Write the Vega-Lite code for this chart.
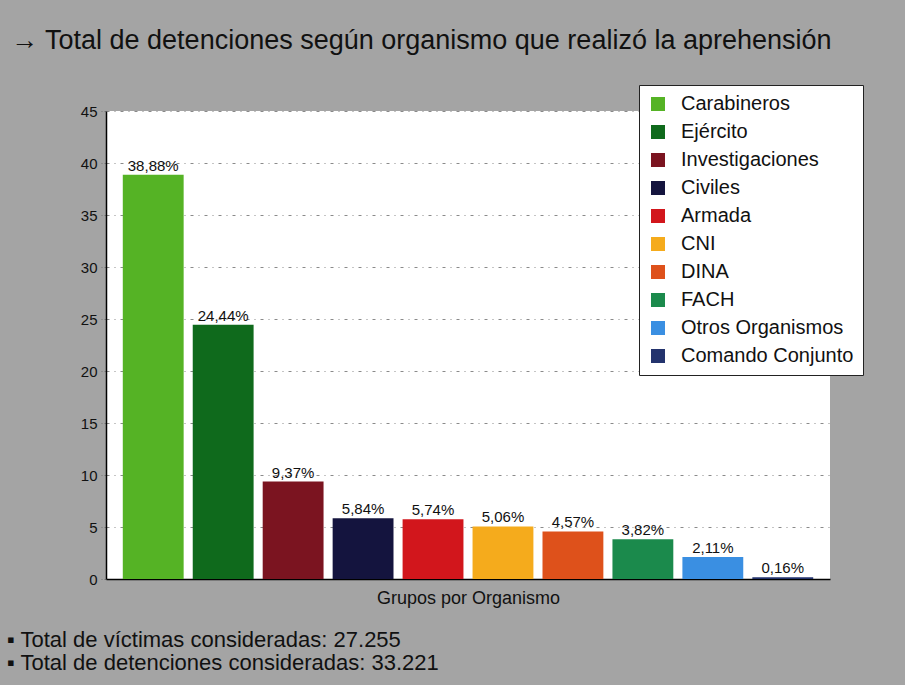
{
  "$schema": "https://vega.github.io/schema/vega-lite/v6.json",
  "background": "#a4a4a4",
  "autosize": {"type": "pad"},
  "padding": {"left": 7, "top": 26, "right": 60, "bottom": 40},
  "config": {
    "font": "Liberation Sans",
    "view": {"fill": "white", "stroke": null}
  },
  "title": {
    "text": "→ Total de detenciones según organismo que realizó la aprehensión",
    "anchor": "start",
    "frame": "group",
    "fontSize": 27,
    "fontWeight": "normal",
    "color": "#111111",
    "dx": -95,
    "offset": 30
  },
  "vconcat": [
    {
      "width": 724,
      "height": 468,
      "title": {
        "text": ["▪ Total de víctimas consideradas: 27.255", "▪ Total de detenciones consideradas: 33.221"],
        "orient": "bottom",
        "anchor": "start",
        "frame": "group",
        "fontSize": 22,
        "lineHeight": 23,
        "fontWeight": "normal",
        "color": "#111111",
        "dx": -99,
        "offset": 23
      },
      "data": {
        "values": [
          {"org": "Carabineros", "pct": 38.88, "label": "38,88%"},
          {"org": "Ejército", "pct": 24.44, "label": "24,44%"},
          {"org": "Investigaciones", "pct": 9.37, "label": "9,37%"},
          {"org": "Civiles", "pct": 5.84, "label": "5,84%"},
          {"org": "Armada", "pct": 5.74, "label": "5,74%"},
          {"org": "CNI", "pct": 5.06, "label": "5,06%"},
          {"org": "DINA", "pct": 4.57, "label": "4,57%"},
          {"org": "FACH", "pct": 3.82, "label": "3,82%"},
          {"org": "Otros Organismos", "pct": 2.11, "label": "2,11%"},
          {"org": "Comando Conjunto", "pct": 0.16, "label": "0,16%"}
        ]
      },
      "encoding": {
        "x": {
          "field": "org",
          "type": "nominal",
          "sort": null,
          "scale": {"paddingInner": 0.13, "paddingOuter": 0.24},
          "axis": {
            "labels": false,
            "ticks": false,
            "domainColor": "#000000",
            "domainWidth": 1.5,
            "title": "Grupos por Organismo",
            "titleFontSize": 18,
            "titleFontWeight": "normal",
            "titleColor": "#111111",
            "titlePadding": 10
          }
        },
        "y": {
          "field": "pct",
          "type": "quantitative",
          "scale": {"domain": [0, 45]},
          "axis": {
            "values": [0, 5, 10, 15, 20, 25, 30, 35, 40, 45],
            "title": null,
            "labelFontSize": 15,
            "labelColor": "#111111",
            "labelPadding": 4,
            "domainColor": "#000000",
            "domainWidth": 1.5,
            "tickColor": "#777777",
            "tickSize": 5,
            "tickDash": [2, 2],
            "gridColor": "#8a8a8a",
            "gridDash": [3, 5, 1, 5],
            "gridWidth": 1
          }
        }
      },
      "layer": [
        {
          "mark": {"type": "bar"},
          "encoding": {
            "color": {
              "field": "org",
              "type": "nominal",
              "sort": null,
              "scale": {
                "domain": ["Carabineros", "Ejército", "Investigaciones", "Civiles", "Armada", "CNI", "DINA", "FACH", "Otros Organismos", "Comando Conjunto"],
                "range": ["#55b325", "#0f6a1c", "#7b1420", "#14143e", "#d2161c", "#f5ab1c", "#de511b", "#1b8a4c", "#3a8fe2", "#23336d"]
              },
              "legend": {
                "orient": "none",
                "legendX": 533,
                "legendY": -26,
                "title": null,
                "fillColor": "white",
                "strokeColor": "#222222",
                "padding": 9,
                "symbolType": "square",
                "symbolSize": 196,
                "symbolStrokeWidth": 0,
                "symbolOpacity": 1,
                "labelFontSize": 20,
                "labelColor": "#111111",
                "labelOffset": 13,
                "rowPadding": 8,
                "labelLimit": 300
              }
            }
          }
        },
        {
          "mark": {"type": "text", "dy": -9, "fontSize": 15, "color": "#111111"},
          "encoding": {"text": {"field": "label"}}
        }
      ]
    }
  ]
}
